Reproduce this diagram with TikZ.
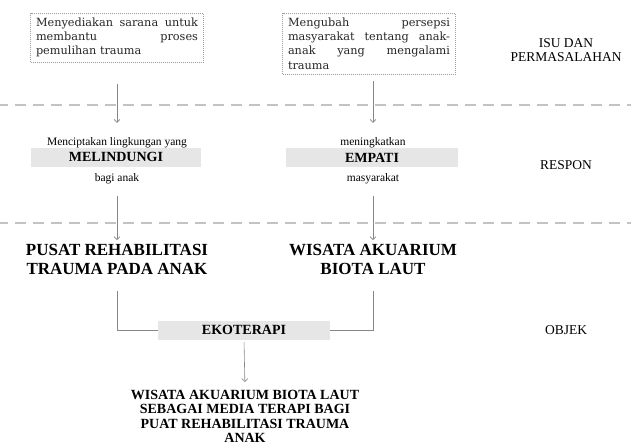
\documentclass[tikz,border=0pt]{standalone}
\usepackage{xcolor}
\usepackage{fontspec}
\setmainfont{Liberation Serif}
\newfontfamily\isufont{DejaVu Serif}
\usepackage{tikz}
\usetikzlibrary{arrows.meta, positioning, calc}
\definecolor{pitagray}{RGB}{230,230,230}
\definecolor{garisgray}{RGB}{135,135,135}
\definecolor{batasgray}{RGB}{195,195,195}

\begin{document}
\begin{tikzpicture}[x=1pt, y=-1pt,
	isu/.style={draw=garisgray!80, dash pattern=on 1pt off 1pt, line width=0.6pt, text width=162pt, align=justify, inner xsep=5.5pt, inner ysep=4.5pt, text=black!85, font=\isufont\fontsize{11.3}{14.3}\selectfont},
	kata/.style={inner sep=0pt, anchor=base, font=\fontsize{11.5}{13}\selectfont},
	pita/.style={fill=pitagray, minimum width=170pt, minimum height=19pt, inner sep=0pt, font=\bfseries\fontsize{14}{16}\selectfont},
	judul/.style={align=center, inner sep=0pt, anchor=north, font=\bfseries\fontsize{17}{18.5}\selectfont},
	tujuan/.style={align=center, inner sep=0pt, anchor=north, font=\bfseries\fontsize{14}{14.5}\selectfont},
	tahap/.style={align=center, inner sep=0pt, font=\fontsize{13.5}{13.5}\selectfont},
	panah/.style={draw=garisgray, line width=0.6pt, -{Straight Barb[length=3pt,width=6pt]}},
	garis/.style={draw=garisgray, line width=0.6pt},
	batas/.style={draw=batasgray, line width=1.6pt, dash pattern=on 11pt off 7pt, dash phase=3pt}]
			\pgfmathsetmacro{\kolL}{117}
			\pgfmathsetmacro{\kolR}{373}
			\pgfmathsetmacro{\kolT}{566}
			\useasboundingbox (0,0) rectangle (631,445);
			\draw[batas] (0,105) -- (631,105);
			\draw[batas] (0,223) -- (631,223);

			\node[isu, anchor=north] (isu1) at (\kolL,13) {Menyediakan sarana untuk\linebreak membantu proses\linebreak pemulihan trauma};
			\node[isu, anchor=north] (isu2) at (369,13) {Mengubah persepsi\linebreak masyarakat tentang anak-\linebreak anak yang mengalami\linebreak trauma};
			\node[tahap] (tIsu) at (\kolT,50) {ISU DAN\\PERMASALAHAN};

			\node[kata] (r1a) at (\kolL,145) {Menciptakan lingkungan yang};
			\node[pita] (r1) at (116,157) {MELINDUNGI};
			\node[kata] (r1b) at (\kolL,181) {bagi anak};
			\node[kata] (r2a) at (\kolR,145) {meningkatkan};
			\node[pita, minimum width=172pt] (r2) at (372,157.5) {EMPATI};
			\node[kata] (r2b) at (\kolR,181) {masyarakat};
			\node[tahap] (tRespon) at (\kolT,165) {RESPON};

			\node[judul] (obj1) at (\kolL,244.5) {PUSAT REHABILITASI\\TRAUMA PADA ANAK};
			\node[judul] (obj2) at (\kolR,244.5) {WISATA AKUARIUM\\BIOTA LAUT};
			\node[pita, minimum width=172pt] (eko) at (244,330) {EKOTERAPI};
			\node[tahap] (tObjek) at (\kolT,330) {OBJEK};
			\node[tujuan] (hasil) at (245,390) {WISATA AKUARIUM BIOTA LAUT\\SEBAGAI MEDIA TERAPI BAGI\\PUAT REHABILITASI TRAUMA\\ANAK};

			\draw[panah, shorten <=22pt, shorten >=14pt] (isu1.south) -- (r1a.north);
			\draw[panah, shorten <=7pt, shorten >=14pt] (r2a.north |- isu2.south) -- (r2a.north);
			\draw[panah, shorten <=12.5pt, shorten >=4.5pt] (r1b.south) -- (obj1.north);
			\draw[panah, shorten <=12.5pt, shorten >=4.5pt] (r2b.south) -- (obj2.north);
			\draw[garis, shorten <=16pt] (obj1.south) |- (eko.west);
			\draw[garis, shorten <=16pt] (obj2.south) |- (eko.east);
			\draw[panah, shorten <=2.5pt, shorten >=8pt] (eko.south) -- (hasil.north);
\end{tikzpicture}
\end{document}
